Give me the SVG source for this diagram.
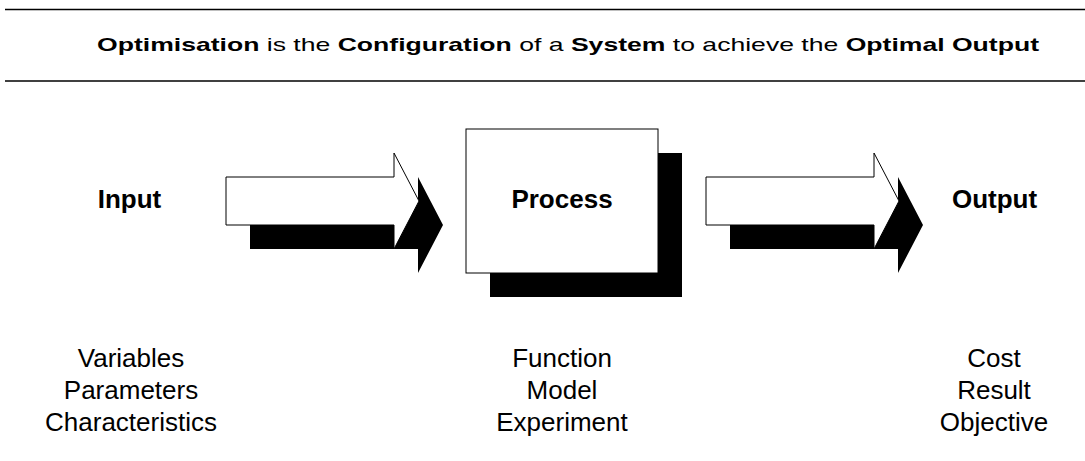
<svg xmlns="http://www.w3.org/2000/svg" width="1085" height="461" viewBox="0 0 1085 461">
<style>
.rule{stroke:#000;stroke-width:1.3}
.title{font-family:"Liberation Sans",Arial,sans-serif;font-size:19px;fill:#000}
.b{font-weight:bold}
.lbl{font-family:"Liberation Sans",Arial,sans-serif;font-size:26px;font-weight:bold;fill:#000;text-anchor:middle}
.sub{font-family:"Liberation Sans",Arial,sans-serif;font-size:26px;fill:#000;text-anchor:middle}
.face{fill:#fff;stroke:#000;stroke-width:1}
.shadow{fill:#000}
</style>
<defs>
<polygon id="arr" points="0,24 168,24 168,0 193,48 168,96 168,72 0,72"/>
</defs>
<line class="rule" x1="5" y1="9.5" x2="1085" y2="9.5"/>
<line class="rule" x1="5" y1="81" x2="1085" y2="81"/>
<text class="title" x="97" y="51" textLength="942" lengthAdjust="spacingAndGlyphs"><tspan class="b">Optimisation</tspan> is the <tspan class="b">Configuration</tspan> of a <tspan class="b">System</tspan> to achieve the <tspan class="b">Optimal Output</tspan></text>
<g id="input">
<text class="lbl" x="129.5" y="208">Input</text>
<text class="sub" x="131" y="367">Variables</text>
<text class="sub" x="131" y="399">Parameters</text>
<text class="sub" x="131" y="431">Characteristics</text>
</g>
<g id="process">
<rect class="shadow" x="490" y="153" width="192" height="144"/>
<rect class="face" x="466" y="129" width="192" height="144"/>
<text class="lbl" x="562" y="208">Process</text>
<text class="sub" x="562" y="367">Function</text>
<text class="sub" x="562" y="399">Model</text>
<text class="sub" x="562" y="431">Experiment</text>
</g>
<g id="output">
<text class="lbl" x="994.5" y="208">Output</text>
<text class="sub" x="994" y="367">Cost</text>
<text class="sub" x="994" y="399">Result</text>
<text class="sub" x="994" y="431">Objective</text>
</g>
<g id="connectors">
<use href="#arr" class="shadow" x="250" y="177"/>
<use href="#arr" class="face" x="226" y="153"/>
<use href="#arr" class="shadow" x="730" y="177"/>
<use href="#arr" class="face" x="706" y="153"/>
</g>
</svg>
